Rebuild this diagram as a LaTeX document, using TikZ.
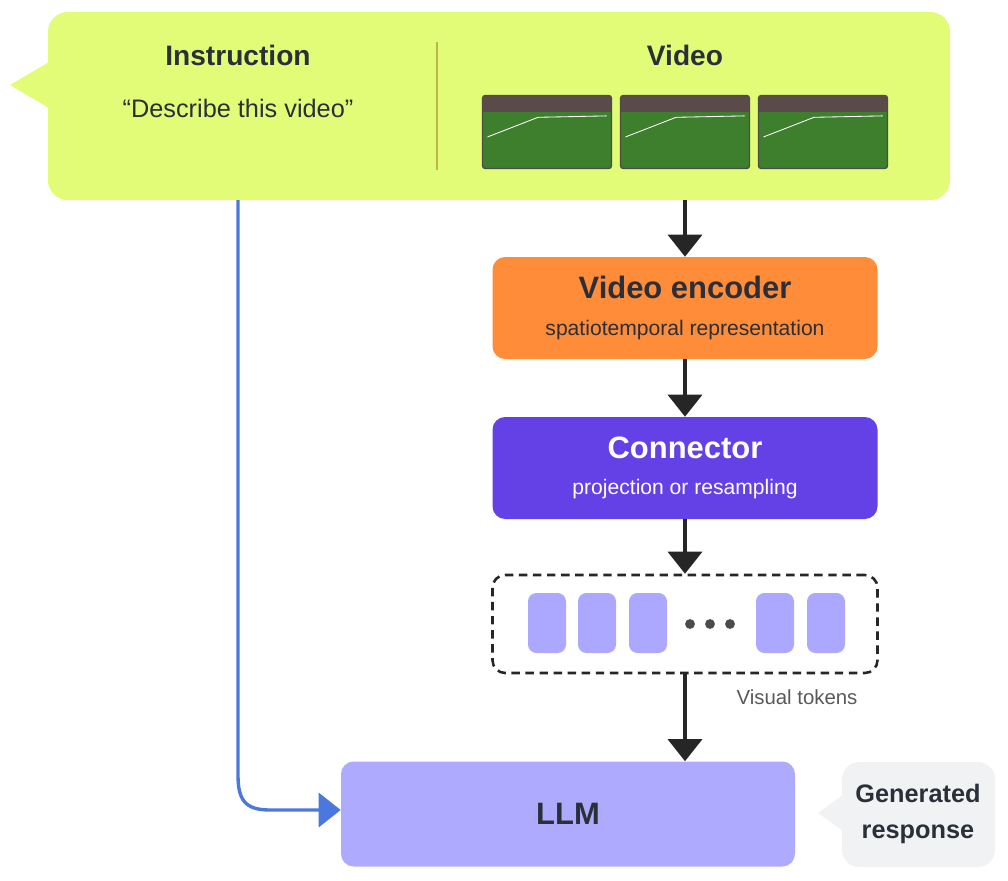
\documentclass[tikz,border=0pt]{standalone}
\usepackage{fontspec}
\setmainfont{Liberation Sans}
\usetikzlibrary{arrows.meta,positioning}
\definecolor{lime}{HTML}{E2FC78}
\definecolor{encorange}{HTML}{FF8C38}
\definecolor{conpurple}{HTML}{6441E6}
\definecolor{tokpurple}{HTML}{ADA8FF}
\definecolor{llmpurple}{HTML}{AEAAFD}
\definecolor{instblue}{HTML}{4A78DE}
\definecolor{respgray}{HTML}{F1F2F3}
\definecolor{darktext}{HTML}{2A2F3A}
\definecolor{field}{HTML}{3E7F2E}
\definecolor{stand}{HTML}{5A4A4A}
\newlength{\px}\setlength{\px}{0.025cm}
\tikzset{
  block/.style={rounded corners=9pt,minimum width=385\px,minimum height=102\px,align=center,inner sep=0pt},
  token/.style={rounded corners=6pt,fill=tokpurple,minimum width=38\px,minimum height=60\px,inner sep=0pt},
  frame/.style={draw=black!70,line width=1pt,fill=field,rounded corners=2pt,minimum width=129\px,minimum height=73\px,inner sep=0pt},
  flow/.style={-{Triangle[length=0.55cm,width=0.85cm]},line width=2.4pt,black!85},
  title/.style={font=\bfseries\fontsize{20}{24}\selectfont,text=darktext},
  sub/.style={font=\fontsize{15}{18}\selectfont,text=darktext}
}
\begin{document}
\begin{tikzpicture}[x=0.025cm,y=-0.025cm]
  \useasboundingbox (0,0) rectangle (1008,881);
  % input bubble
  \fill[lime,rounded corners=14pt] (48,12) rectangle (950,200);
  \fill[lime] (49,62) -- (10,85) -- (49,108) -- cycle;
  \draw[olive!60,line width=1pt] (437,42) -- (437,170);
  \node[title] (instr) at (238,55) {Instruction};
  \node[sub,font=\fontsize{18}{21}\selectfont] (prompt) at (238,108) {“Describe this video”};
  \node[title] (video) at (685,55) {Video};
  \foreach \i/\cx in {1/547,2/685,3/823}{
    \node[frame] (f\i) at (\cx,132) {};
    \fill[stand] ([xshift=1pt,yshift=-1pt]f\i.north west) rectangle ([xshift=-1pt,yshift=-12pt]f\i.north east);
    \draw[white!85,line width=0.6pt] ([xshift=4pt,yshift=-30pt]f\i.north west) -- ([xshift=40pt,yshift=-16pt]f\i.north west) -- ([xshift=-4pt,yshift=-15pt]f\i.north east);
  }
  \coordinate (vbot) at (685,200);
  \coordinate (ibot) at (238,200);
  % pipeline
  \node[block,fill=encorange] (enc) at (685,308)
    {{\bfseries\fontsize{22}{26}\selectfont\color{darktext}Video encoder}\\[14pt]{\fontsize{15}{18}\selectfont\color{darktext}spatiotemporal representation}};
  \node[block,fill=conpurple] (con) at (685,468)
    {{\bfseries\fontsize{22}{26}\selectfont\color{white}Connector}\\[14pt]{\fontsize{15}{18}\selectfont\color{white}projection or resampling}};
  \node[block,draw=black!85,dash pattern=on 6pt off 4pt,line width=1.8pt,minimum height=98\px] (tok) at (685,624) {};
  \foreach \n/\cx in {1/547,2/597,3/648,4/775,5/826}
    \node[token] (t\n) at (\cx,623) {};
  \foreach \cx in {690,710,730}
    \fill[black!70] (\cx,624) circle (3.5pt);
  \node[font=\fontsize{14.5}{17}\selectfont,text=black!65] (vtlabel) at (797,697) {Visual tokens};
  \node[block,fill=llmpurple,minimum width=454\px,minimum height=105\px] (llm) at (568,814)
    {\bfseries\fontsize{22}{26}\selectfont\color{darktext}LLM};
  % response bubble
  \fill[respgray,rounded corners=12pt] (842,762) rectangle (995,867);
  \fill[respgray] (843,795) -- (818,813) -- (843,831) -- cycle;
  \node[align=center,font=\bfseries\fontsize{18}{26}\selectfont,text=darktext] (resp) at (918,814) {Generated\\response};
  % arrows
  \draw[flow] (vbot) -- (enc.north);
  \draw[flow] (enc.south) -- (con.north);
  \draw[flow] (con.south) -- (tok.north);
  \draw[flow] (tok.south) -- (tok.south |- llm.north);
  \draw[instblue,line width=2.4pt,-{Triangle[length=0.55cm,width=0.85cm]}]
    (ibot) -- (238,775) .. controls (238,800) and (245,810) .. (270,810) -- (llm.west |- 0,810);
\end{tikzpicture}
\end{document}
